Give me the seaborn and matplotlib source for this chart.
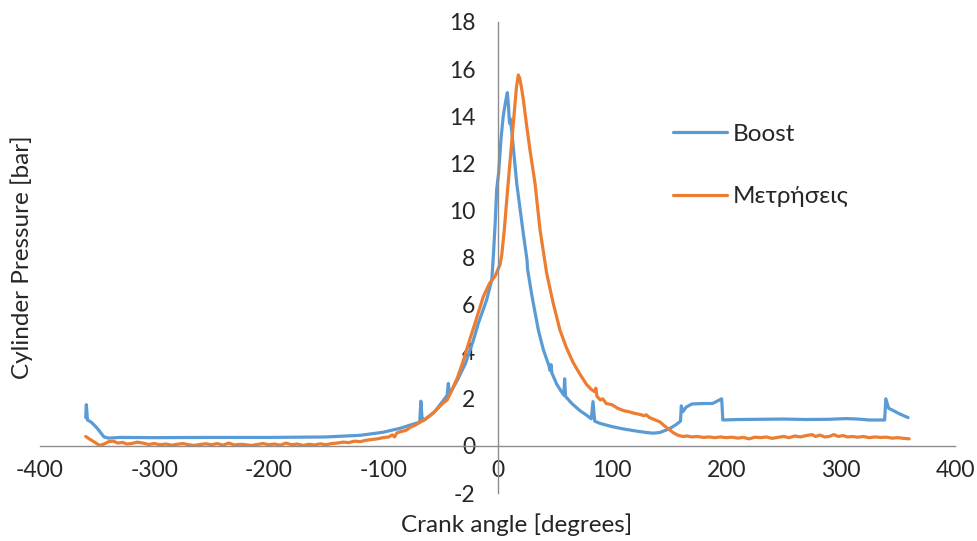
"""Cylinder pressure vs crank angle: Boost simulation against measurements."""
import matplotlib
matplotlib.use("Agg")
import matplotlib.pyplot as plt
import pandas as pd
import seaborn as sns

BLUE = "#5B9BD5"
ORANGE = "#ED7D31"

boost_angle = [-360, -359.5, -358.5, -355, -350, -344, -340, -330, -300, -250, -200, -150,
               -120, -100, -85, -72, -68, -67, -66, -64, -55, -47, -44, -43, -42, -35, -28,
               -21, -16.8, -9.5, -5, -3.7, -2, -0.7, 1, 3, 5, 7, 8.6, 9.5, 10.5, 11, 12.4,
               16.8, 22.6, 25.8, 26.3, 30, 35.7, 40, 45, 46, 46.8, 47.5, 52, 58, 58.7, 59.5,
               65, 72, 78, 82, 83.5, 85, 90, 100, 110, 120, 130, 136, 142, 150, 156, 160, 160.7,
               162, 165, 170, 180, 188, 196, 197, 210, 230, 250, 270, 290, 305, 315, 325,
               338.5, 339.5, 342, 346, 352, 359]
boost_p = [1.2, 1.75, 1.1, 1.0, 0.75, 0.38, 0.33, 0.36, 0.35, 0.36, 0.36, 0.38,
           0.45, 0.58, 0.75, 0.95, 1.0, 1.9, 1.2, 1.1, 1.45, 1.95, 2.15, 2.65, 2.2, 2.8, 3.5,
           4.5, 5.2, 6.2, 7.05, 8.0, 9.5, 10.9, 11.6, 13.0, 14.0, 14.6, 15.0, 14.5, 13.7, 13.9, 13.4,
           11.15, 9.0, 7.9, 7.5, 6.4, 4.92, 4.1, 3.4, 3.2, 3.45, 3.1, 2.6, 2.15, 2.85, 2.1,
           1.8, 1.5, 1.3, 1.15, 1.88, 1.05, 0.95, 0.82, 0.72, 0.64, 0.57, 0.54, 0.57, 0.72, 0.9, 1.05, 1.7,
           1.45, 1.65, 1.78, 1.8, 1.8, 2.0, 1.1, 1.12, 1.13, 1.14, 1.12, 1.13, 1.16, 1.14, 1.1,
           1.1, 2.0, 1.6, 1.5, 1.35, 1.2]

meas_angle = [-360, -357, -352, -348, -344, -340, -336, -332, -328, -324, -320, -315, -310,
              -305, -300, -295, -290, -285, -280, -275, -270, -265, -260, -255, -250, -245,
              -240, -235, -230, -225, -220, -215, -210, -205, -200, -195, -190, -185, -180,
              -175, -170, -165, -160, -155, -150, -145, -140, -135, -130, -125, -120, -115,
              -110, -105, -100, -95, -92, -90, -88, -85, -80, -76, -72, -68, -64, -60, -56,
              -52, -48, -44, -40, -35, -30, -25, -19.7, -12.4, -7, -2.2, 2.2, 3.7, 6, 8, 10.3,
              12.4, 13.8, 15.3, 16.5, 18.2, 19.5, 21, 22.6, 25.5, 28.4, 32.8, 37.2, 43, 48.5,
              54.6, 60, 66, 72, 78, 82, 85,
              86, 87, 90, 92, 95, 100, 105, 110, 115, 120, 125, 128, 130, 133, 137, 142, 146,
              150, 154, 158, 162, 166, 170, 175, 180, 185, 190, 195, 200, 205, 210, 215, 220,
              225, 230, 235, 240, 245, 250, 255, 260, 265, 270, 275, 278, 282, 286, 290, 294,
              298, 302, 306, 310, 315, 320, 325, 330, 335, 340, 345, 350, 355, 360]
meas_p = [0.4, 0.3, 0.15, 0.02, 0.08, 0.18, 0.2, 0.12, 0.15, 0.08, 0.1, 0.16, 0.12,
          0.06, 0.1, 0.05, 0.08, 0.03, 0.07, 0.1, 0.05, 0.02, 0.06, 0.09, 0.05, 0.1,
          0.03, 0.12, 0.04, 0.07, 0.05, 0.02, 0.06, 0.1, 0.05, 0.08, 0.03, 0.12, 0.05,
          0.08, 0.02, 0.07, 0.04, 0.09, 0.05, 0.1, 0.12, 0.16, 0.14, 0.2, 0.18, 0.24,
          0.27, 0.3, 0.35, 0.38, 0.47, 0.38, 0.55, 0.6, 0.66, 0.8, 0.88, 1.0, 1.1, 1.25, 1.4,
          1.6, 1.8, 1.95, 2.35, 2.9, 3.6, 4.4, 5.2, 6.34, 6.9, 7.2, 7.7, 8.1, 9.2, 10.4, 11.7,
          12.9, 13.7, 14.5, 15.2, 15.75, 15.6, 15.2, 14.7, 13.6, 12.56, 11.15, 9.17, 7.33, 6.1,
          4.92, 4.2, 3.55, 3.05, 2.6, 2.4, 2.3,
          2.45, 2.1, 1.95, 2.0, 1.8, 1.75, 1.6, 1.5, 1.45, 1.38, 1.33, 1.28, 1.32, 1.2, 1.12, 1.02, 0.85,
          0.7, 0.55, 0.45, 0.4, 0.42, 0.38, 0.4, 0.36, 0.38, 0.35, 0.38, 0.35, 0.37, 0.33, 0.36, 0.3,
          0.37, 0.35, 0.38, 0.32, 0.36, 0.4, 0.35, 0.42, 0.38, 0.44, 0.48, 0.4, 0.46, 0.38, 0.4, 0.48,
          0.4, 0.44, 0.38, 0.4, 0.37, 0.4, 0.35, 0.38, 0.36, 0.37, 0.33, 0.35, 0.32, 0.3]

x_ticks = [-400, -300, -200, -100, 0, 100, 200, 300, 400]
y_ticks = [-2, 0, 2, 4, 6, 8, 10, 12, 14, 16, 18]

sns.set_style("white")
plt.rcParams["font.family"] = ["Lato", "DejaVu Sans"]
plt.rcParams["axes.unicode_minus"] = False

fig = plt.figure(figsize=(9.77, 5.41), dpi=100)
ax = fig.add_axes([40 / 977, 48 / 541, 915 / 977, 471 / 541])

boost = pd.DataFrame({"angle": boost_angle, "pressure": boost_p})
meas = pd.DataFrame({"angle": meas_angle, "pressure": meas_p})
sns.lineplot(data=boost, x="angle", y="pressure", ax=ax, color=BLUE, lw=2.3,
             estimator=None, sort=False, label="Boost")
sns.lineplot(data=meas, x="angle", y="pressure", ax=ax, color=ORANGE, lw=2.3,
             estimator=None, sort=False, label="Μετρήσεις")

ax.set_xlim(-400, 400)
ax.set_ylim(-2, 18)
ax.set_xticks(x_ticks)
ax.set_yticks(y_ticks)

for side in ["top", "right"]:
    ax.spines[side].set_visible(False)
ax.spines["left"].set_position(("data", 0))
ax.spines["bottom"].set_position(("data", 0))
for side in ["left", "bottom"]:
    ax.spines[side].set_color("#8c8c8c")
    ax.spines[side].set_linewidth(1.0)

ax.tick_params(axis="both", which="major", labelsize=16.5, color="#8c8c8c",
               direction="out", length=6, width=1.0)
ax.tick_params(axis="y", pad=10)
ax.tick_params(axis="x", pad=4)

ax.set_xlabel("Crank angle [degrees]", fontsize=17.5)
ax.set_ylabel("Cylinder Pressure [bar]", fontsize=17.5)
ax.xaxis.set_label_coords(0.521, -0.043)
ax.yaxis.set_label_coords(-0.008, 0.5)

ax.legend(loc="upper left", bbox_to_anchor=(0.668, 0.83), frameon=False, fontsize=17.5,
          handlelength=2.2, labelspacing=1.7, handletextpad=0.25)

fig.savefig("out.png", dpi=100)
